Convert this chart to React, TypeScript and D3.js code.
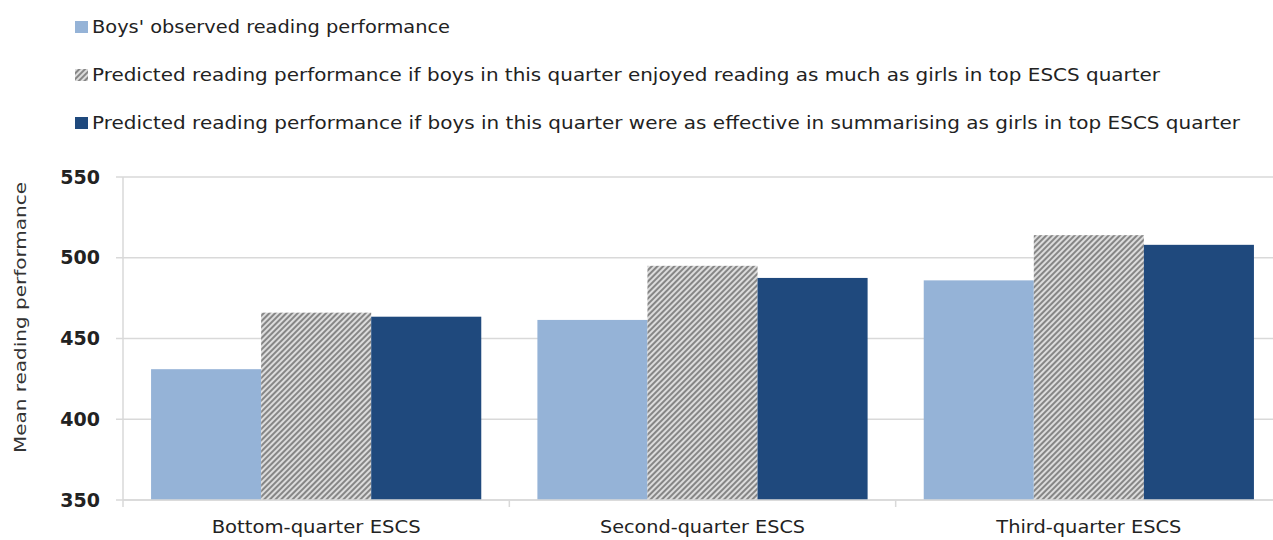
import React from "react";
import * as d3 from "d3";

const categories = ["Bottom-quarter ESCS", "Second-quarter ESCS", "Third-quarter ESCS"];
const seriesNames = [
  "Boys' observed reading performance",
  "Predicted reading performance if boys in this quarter enjoyed reading as much as girls in top ESCS quarter",
  "Predicted reading performance if boys in this quarter were as effective in summarising as girls in top ESCS quarter",
];
const observed = [431, 461.5, 486];
const enjoyed = [466, 495, 514];
const summarising = [463.5, 487.5, 508];
const yTicks = [350, 400, 450, 500, 550];
const yTitle = "Mean reading performance";

const seriesValues = [observed, enjoyed, summarising];
const seriesKeys = ["observed", "enjoyed", "summarising"];
const fills = ["#95B3D7", "url(#hatch)", "#1F497D"];
const legendWidths = [358, 1068, 1148];
const catWidths = [209, 205, 185];

export default function App() {
  const W = 1273;
  const H = 540;
  const left = 123;
  const right = 1282;
  const top = 177;
  const bottom = 500;

  const x0 = d3.scaleBand<string>().domain(categories).range([left, right]).padding(0);
  const x1 = d3
    .scaleBand<string>()
    .domain(seriesKeys)
    .range([0, x0.bandwidth()])
    .paddingInner(0)
    .paddingOuter(0.255);
  const y = d3.scaleLinear().domain([350, 550]).range([bottom, top]);

  const font = "'DejaVu Sans', sans-serif";

  return (
    <svg
      width={W}
      height={H}
      style={{ position: "absolute", left: 0, top: 0, background: "#fff" }}
      fontFamily={font}
    >
      <defs>
        <pattern id="hatch" patternUnits="userSpaceOnUse" width={4} height={4} patternTransform="rotate(45)">
          <rect width={4} height={4} fill="#dcdcdc" />
          <rect width={2} height={4} fill="#868686" />
        </pattern>
      </defs>

      {/* legend */}
      {seriesNames.map((name, i) => {
        const cy = 27 + i * 48;
        return (
          <g key={name}>
            <rect x={75} y={cy - 6} width={13} height={12} fill={fills[i]} />
            <text
              x={92}
              y={cy}
              dy="0.35em"
              fontSize={17}
              fill="#222"
              textLength={legendWidths[i]}
              lengthAdjust="spacingAndGlyphs"
            >
              {name}
            </text>
          </g>
        );
      })}

      {/* grid */}
      {yTicks.map((t) => (
        <g key={t}>
          <line x1={left} x2={W} y1={y(t)} y2={y(t)} stroke="#d9d9d9" strokeWidth={1.5} />
          <line x1={left - 7} x2={left} y1={y(t)} y2={y(t)} stroke="#d9d9d9" strokeWidth={1.5} />
          <text
            x={100}
            y={y(t)}
            dy="0.35em"
            textAnchor="end"
            fontSize={19}
            fontWeight={600}
            fill="#222"
          >
            {t}
          </text>
        </g>
      ))}
      <line x1={left} x2={left} y1={top} y2={bottom} stroke="#d9d9d9" strokeWidth={1.5} />

      {/* bars */}
      {categories.map((c, ci) => (
        <g key={c} transform={`translate(${x0(c)},0)`}>
          {seriesKeys.map((k, si) => {
            const v = seriesValues[si][ci];
            return (
              <rect
                key={k}
                x={x1(k)}
                y={y(v)}
                width={x1.bandwidth()}
                height={y(350) - y(v)}
                fill={fills[si]}
              />
            );
          })}
        </g>
      ))}

      {/* x axis */}
      <line x1={left} x2={W} y1={bottom} y2={bottom} stroke="#d9d9d9" strokeWidth={1.5} />
      {categories.map((c, ci) => (
        <g key={c}>
          <line
            x1={(x0(c) as number)}
            x2={(x0(c) as number)}
            y1={bottom}
            y2={bottom + 7}
            stroke="#d9d9d9"
            strokeWidth={1.5}
          />
          <text
            x={(x0(c) as number) + x0.bandwidth() / 2 - (ci === 2 ? 100 : 0) * 0}
            y={527}
            dy="0.35em"
            textAnchor="middle"
            fontSize={17}
            fill="#222"
            textLength={catWidths[ci]}
            lengthAdjust="spacingAndGlyphs"
          >
            {c}
          </text>
        </g>
      ))}

      {/* y title */}
      <text
        transform={`translate(20,${(182 + 453) / 2}) rotate(-90)`}
        textAnchor="middle"
        dy="0.35em"
        fontSize={16}
        fill="#333"
        textLength={271}
        lengthAdjust="spacingAndGlyphs"
      >
        {yTitle}
      </text>
    </svg>
  );
}
